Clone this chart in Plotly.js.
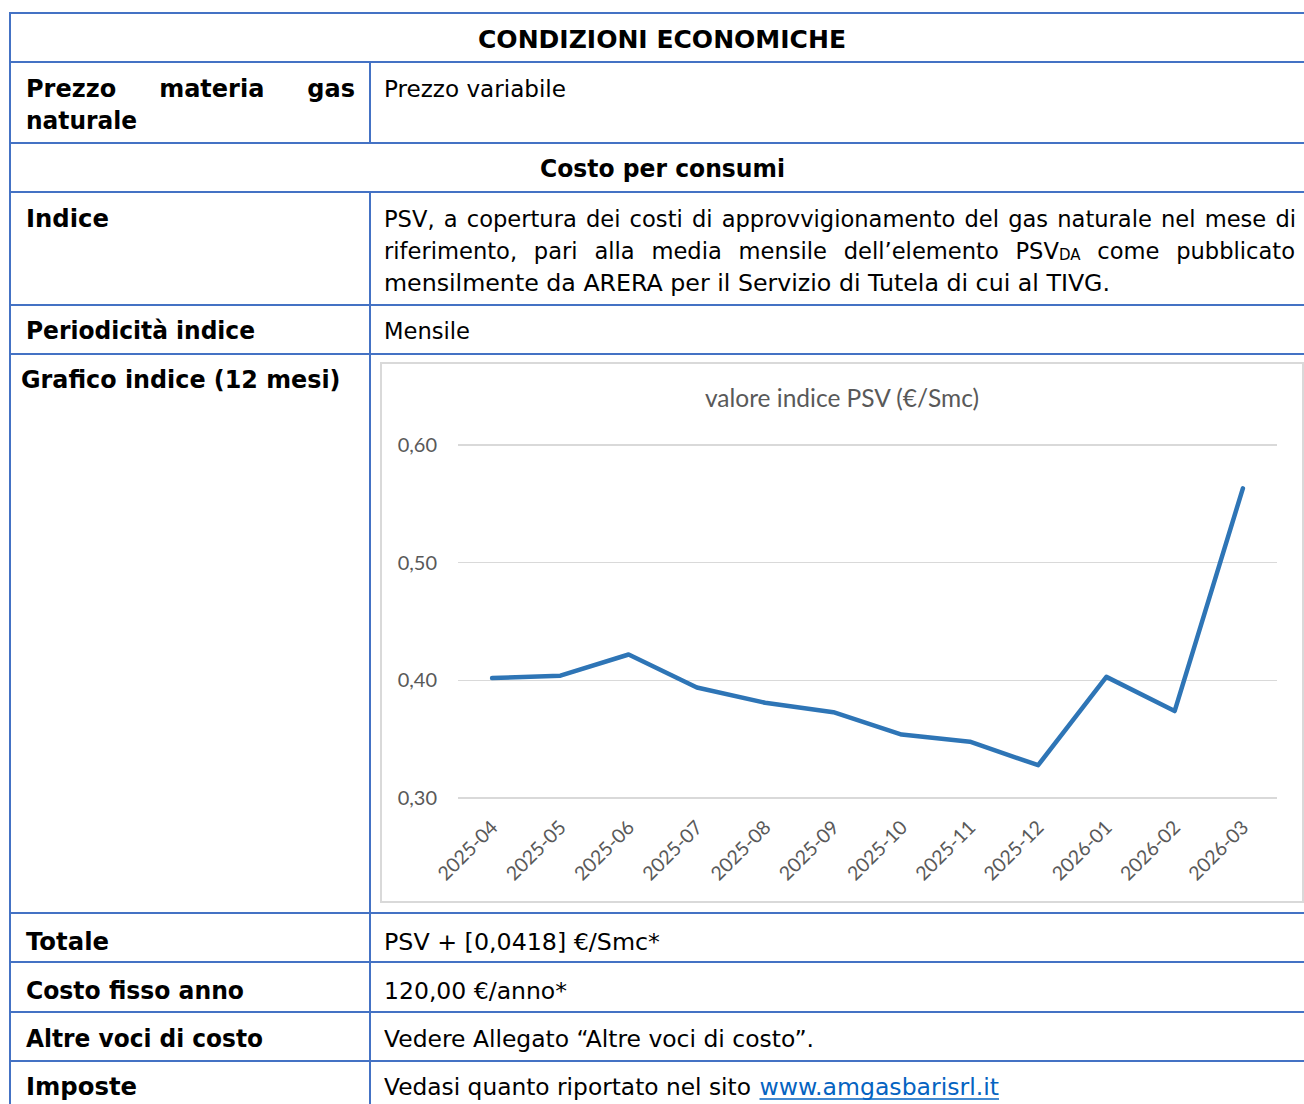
<!DOCTYPE html>
<html>
<head>
<meta charset="utf-8">
<script src="https://cdn.plot.ly/plotly-3.0.1.min.js"></script>
<style>
html,body{margin:0;padding:0;background:#fff;}
#page{position:relative;width:1304px;height:1104px;overflow:hidden;background:#fff;}
#chart{position:absolute;left:380px;top:362px;width:924px;height:541px;}
#ov{position:absolute;left:0;top:0;width:1304px;height:1104px;pointer-events:none;}
.js-line{stroke-linejoin:round;stroke-linecap:round;}
</style>
</head>
<body>
<div id="page">
  <div id="chart"></div>
  <svg id="ov" xmlns="http://www.w3.org/2000/svg" width="1304" height="1104"></svg>
</div>
<script>
// ---- chart data ----
const months = ['2025-04','2025-05','2025-06','2025-07','2025-08','2025-09',
                '2025-10','2025-11','2025-12','2026-01','2026-02','2026-03'];
const psvValues = [0.402, 0.404, 0.422, 0.394, 0.381, 0.373,
                   0.354, 0.348, 0.328, 0.403, 0.374, 0.563];
const yTickValues = [0.30, 0.40, 0.50, 0.60];
const chartTitle = 'valore indice PSV (€/Smc)';

// ---- table texts ----
const headerTitle = 'CONDIZIONI ECONOMICHE';
const sectionTitle = 'Costo per consumi';
const labelPrezzo = ['Prezzo', 'materia', 'gas'];
const labelPrezzo2 = 'naturale';
const valuePrezzo = 'Prezzo variabile';
const labelIndice = 'Indice';
const indiceLine1 = 'PSV, a copertura dei costi di approvvigionamento del gas naturale nel mese di';
const indiceLine2 = ['riferimento,', 'pari', 'alla', 'media', 'mensile', 'dell’elemento', 'PSV|DA', 'come', 'pubblicato'];
const indiceLine3 = 'mensilmente da ARERA per il Servizio di Tutela di cui al TIVG.';
const labelPeriod = 'Periodicità indice';
const valuePeriod = 'Mensile';
const labelGrafico = 'Grafico indice (12 mesi)';
const labelTotale = 'Totale';
const valueTotale = 'PSV + [0,0418] €/Smc*';
const labelFisso = 'Costo fisso anno';
const valueFisso = '120,00 €/anno*';
const labelAltre = 'Altre voci di costo';
const valueAltre = 'Vedere Allegato “Altre voci di costo”.';
const labelImposte = 'Imposte';
const valueImposte = 'Vedasi quanto riportato nel sito';
const linkImposte = 'www.amgasbarisrl.it';

// ---- chart ----
const trace = {
  x: months, y: psvValues, type: 'scatter', mode: 'lines',
  line: {color: '#2E75B6', width: 4.5}, hoverinfo: 'none'
};
const layout = {
  width: 924, height: 541,
  margin: {l: 78, r: 27, t: 71.2, b: 92.9, pad: 0},
  paper_bgcolor: 'rgba(0,0,0,0)', plot_bgcolor: 'rgba(0,0,0,0)',
  separators: ',.',
  showlegend: false,
  font: {family: 'Lato, "Open Sans", sans-serif', color: '#595959'},
  title: {text: chartTitle, x: 0.5, xref: 'container', xanchor: 'center',
          y: 0.9335, yref: 'container', yanchor: 'middle',
          font: {family: 'Lato, sans-serif', size: 24.5, color: '#595959'}},
  xaxis: {type: 'category', range: [-0.5, 11.5], tickangle: -45, showgrid: false, zeroline: false,
          showline: false, ticks: '', ticklabelstandoff: 1,
          tickfont: {size: 19.5, color: '#595959'}},
  yaxis: {range: [0.29, 0.61], tickvals: yTickValues, tickformat: '.2f',
          showgrid: true, gridcolor: '#D9D9D9', gridwidth: 1.5, zeroline: false,
          showline: false, ticks: '', ticklabelstandoff: 20,
          tickfont: {size: 20, color: '#595959'}}
};
Plotly.newPlot('chart', [trace], layout, {staticPlot: true, displayModeBar: false});

// ---- table overlay ----
const NS = 'http://www.w3.org/2000/svg';
const ov = document.getElementById('ov');
const BLUE = '#4472C4';
const FS = 22.6;
const FSB = 24;
function el(name, attrs, parent) {
  const e = document.createElementNS(NS, name);
  for (const k in attrs) e.setAttribute(k, attrs[k]);
  (parent || ov).appendChild(e);
  return e;
}
function hline(y, x0, x1) { el('line', {x1: x0, y1: y, x2: x1, y2: y, stroke: BLUE, 'stroke-width': 2}); }
function vline(x, y0, y1) { el('line', {x1: x, y1: y0, x2: x, y2: y1, stroke: BLUE, 'stroke-width': 2}); }

function makeText(x, y, str, bold, fill) {
  const t = el('text', {x: x, y: y, 'font-family': '"DejaVu Sans", Verdana, sans-serif',
    'font-size': bold ? FSB : FS, 'font-weight': bold ? 'bold' : 'normal', fill: fill || '#000'});
  if (str.indexOf('|') >= 0) {
    const parts = str.split('|');
    const a = el('tspan', {}, t); a.textContent = parts[0];
    const b = el('tspan', {'font-size': 15, dy: 1}, t); b.textContent = parts[1];
  } else {
    t.textContent = str;
  }
  return t;
}
function fitText(x, y, str, bold, w, fill) {
  const t = makeText(x, y, str, bold, fill);
  t.setAttribute('textLength', w);
  t.setAttribute('lengthAdjust', 'spacingAndGlyphs');
  return t;
}
function justify(x0, x1, y, words, bold) {
  const els = words.map(w => makeText(0, y, w, bold));
  const widths = els.map(e => e.getComputedTextLength());
  const total = widths.reduce((a, b) => a + b, 0);
  const gap = (x1 - x0 - total) / (words.length - 1);
  let x = x0;
  els.forEach((e, i) => { e.setAttribute('x', x); x += widths[i] + gap; });
}

function drawTable() {
  // chart frame
  el('rect', {x: 381, y: 363, width: 922, height: 539, fill: 'none', stroke: '#D9D9D9', 'stroke-width': 2});
  // borders
  [13, 62, 143, 192, 305, 354, 913, 962, 1012, 1061].forEach(y => hline(y, 9, 1304));
  vline(10, 12, 1104);
  vline(370, 61, 144);
  vline(370, 191, 1104);

  fitText(478, 48, headerTitle, true, 368);
  justify(26, 355, 97, labelPrezzo, true);
  fitText(26, 129, labelPrezzo2, true, 111);
  fitText(384, 97, valuePrezzo, false, 182);
  fitText(540, 177, sectionTitle, true, 245);
  fitText(26, 227, labelIndice, true, 83);
  justify(384, 1296, 227, indiceLine1.split(' '), false);
  justify(384, 1295, 259, indiceLine2, false);
  fitText(384, 291, indiceLine3, false, 726);
  fitText(26, 339, labelPeriod, true, 229);
  fitText(384, 339, valuePeriod, false, 86);
  fitText(21, 388, labelGrafico, true, 319.5);
  fitText(26, 950, labelTotale, true, 83);
  fitText(384, 950, valueTotale, false, 276);
  fitText(26, 999, labelFisso, true, 218);
  fitText(384, 999, valueFisso, false, 183);
  fitText(26, 1047, labelAltre, true, 237);
  fitText(384, 1047, valueAltre, false, 430);
  fitText(26, 1095, labelImposte, true, 111);
  fitText(384, 1095, valueImposte, false, 367);
  fitText(759.5, 1095, linkImposte, false, 239.5, '#0563C1');
  el('line', {x1: 759.5, y1: 1099, x2: 999, y2: 1099, stroke: '#0563C1', 'stroke-width': 1.5});
}
if (document.fonts && document.fonts.ready) {
  document.fonts.ready.then(drawTable);
} else {
  drawTable();
}
</script>
</body>
</html>
